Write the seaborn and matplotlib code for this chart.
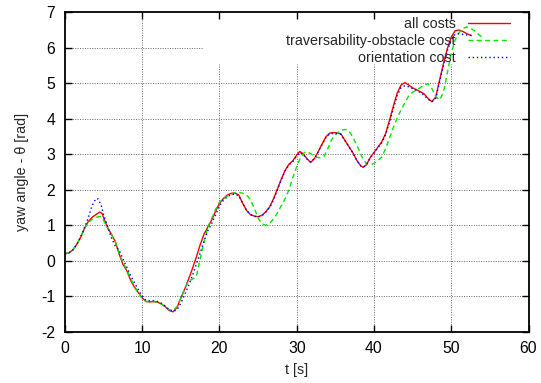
import matplotlib
matplotlib.use("Agg")
import matplotlib.pyplot as plt
import seaborn as sns
import pandas as pd

# yaw angle trajectories (time [s], angle [rad]) for each cost setting
t_all = [0, 0.5, 1.0, 1.5, 2.0, 2.5, 3.0, 3.5, 4.0, 4.5, 4.8, 5.2, 5.6, 6.0, 6.5, 7.0, 7.5, 8.0, 8.5, 9.0,
         9.5, 10.0, 10.5, 11.0, 11.5, 12.0, 12.5, 13.0, 13.5, 14.0, 14.5, 15.0, 15.5, 16.0, 16.5, 17.0, 17.5,
         18.0, 18.5, 19.0, 19.5, 20.0, 20.5, 21.0, 21.5, 22.0, 22.5, 23.0, 23.5, 24.0, 24.5, 25.0, 25.5, 26.0,
         26.5, 27.0, 27.5, 28.0, 28.5, 29.0, 29.5, 30.0, 30.4, 30.8, 31.3, 31.8, 32.3, 32.8, 33.3, 33.8, 34.3,
         35.0, 35.7, 36.2, 36.8, 37.3, 37.8, 38.3, 38.6, 39.0, 39.5, 40.0, 40.5, 41.0, 41.5, 42.0, 42.5, 43.0,
         43.5, 44.0, 44.5, 45.0, 45.5, 46.0, 46.5, 47.0, 47.5, 48.0, 48.5, 49.0, 49.5, 50.0, 50.5, 51.0, 51.5,
         52.0, 52.6]
yaw_all = [0.20, 0.22, 0.30, 0.45, 0.65, 0.90, 1.10, 1.22, 1.30, 1.37, 1.33, 1.10, 0.90, 0.75, 0.55, 0.20,
           -0.10, -0.28, -0.55, -0.75, -0.90, -1.05, -1.15, -1.16, -1.15, -1.17, -1.22, -1.30, -1.40, -1.44,
           -1.32, -1.05, -0.80, -0.52, -0.22, 0.10, 0.45, 0.75, 0.95, 1.15, 1.40, 1.62, 1.75, 1.85, 1.90, 1.91,
           1.85, 1.62, 1.42, 1.30, 1.26, 1.24, 1.28, 1.38, 1.52, 1.75, 2.02, 2.30, 2.55, 2.72, 2.82, 2.98,
           3.08, 3.02, 2.88, 2.77, 2.88, 3.08, 3.30, 3.50, 3.60, 3.61, 3.58, 3.40, 3.20, 3.03, 2.82, 2.67,
           2.63, 2.70, 2.90, 3.05, 3.20, 3.35, 3.58, 3.95, 4.35, 4.72, 4.95, 5.02, 4.95, 4.87, 4.82, 4.76,
           4.70, 4.57, 4.48, 4.62, 5.10, 5.56, 5.98, 6.30, 6.48, 6.50, 6.46, 6.40, 6.34]

t_trav = [0, 0.5, 1.0, 1.5, 2.0, 2.5, 3.0, 3.5, 4.0, 4.5, 4.8, 5.2, 5.6, 6.0, 6.5, 7.0, 7.5, 8.0, 8.5, 9.0,
          9.5, 10.0, 10.5, 11.0, 11.5, 12.0, 12.5, 13.0, 13.5, 14.0, 14.5, 15.0, 15.5, 16.0, 16.5, 17.0, 17.5,
          18.0, 18.5, 19.0, 19.5, 20.0, 20.5, 21.0, 21.5, 22.0, 22.5, 23.0, 23.5, 24.0, 24.5, 25.0, 25.5, 26.0,
          26.5, 27.0, 27.5, 28.0, 28.5, 29.0, 29.5, 30.0, 30.5, 31.0, 31.3, 31.8, 32.3, 33.0, 33.5, 34.0, 34.5,
          35.0, 35.5, 36.0, 36.5, 37.0, 37.5, 38.0, 38.5, 39.0, 39.5, 40.0, 40.5, 41.0, 41.5, 42.0, 42.5, 43.0,
          43.5, 44.0, 44.5, 45.0, 45.5, 46.0, 46.5, 47.0, 47.5, 48.0, 48.5, 49.0, 49.5, 50.0, 50.5, 51.0, 51.5,
          52.0, 52.5, 53.0, 53.5, 54.0]
yaw_trav = [0.20, 0.22, 0.30, 0.45, 0.65, 0.90, 1.08, 1.16, 1.22, 1.25, 1.22, 1.05, 0.88, 0.74, 0.55, 0.22,
            -0.05, -0.25, -0.50, -0.72, -0.90, -1.07, -1.15, -1.15, -1.15, -1.17, -1.22, -1.30, -1.38, -1.40,
            -1.30, -1.05, -0.78, -0.58, -0.52, -0.45, 0.05, 0.55, 0.95, 1.20, 1.45, 1.65, 1.76, 1.82, 1.86,
            1.92, 1.93, 1.90, 1.86, 1.72, 1.48, 1.20, 1.04, 1.00, 1.05, 1.18, 1.35, 1.55, 1.75, 2.00, 2.35,
            2.65, 2.92, 3.05, 3.07, 3.02, 2.93, 2.90, 2.93, 3.15, 3.40, 3.55, 3.65, 3.69, 3.70, 3.58, 3.38,
            3.15, 2.90, 2.74, 2.70, 2.74, 2.82, 2.92, 3.15, 3.45, 3.75, 4.02, 4.25, 4.45, 4.65, 4.75, 4.80,
            4.88, 4.95, 4.99, 4.85, 4.62, 4.53, 4.75, 5.30, 5.85, 6.22, 6.42, 6.54, 6.59, 6.55, 6.48, 6.38,
            6.30]

t_orient = [0, 0.5, 1.0, 1.5, 2.0, 2.5, 3.0, 3.5, 4.0, 4.3, 4.7, 5.0, 5.5, 6.0, 6.5, 7.0, 7.5, 8.0, 8.5,
            9.0, 9.5, 10.0, 10.5, 11.0, 11.5, 12.0, 12.5, 13.0, 13.5, 14.0, 14.5, 15.0, 15.5, 16.0, 16.5, 17.0,
            17.5, 18.0, 18.5, 19.0, 19.5, 20.0, 20.5, 21.0, 21.5, 22.0, 22.5, 23.0, 23.5, 24.0, 24.5, 25.0,
            25.5, 26.0, 26.5, 27.0, 27.5, 28.0, 28.5, 29.0, 29.5, 30.0, 30.4, 30.8, 31.3, 31.8, 32.3, 32.8,
            33.3, 33.8, 34.3, 35.0, 35.7, 36.2, 36.8, 37.3, 37.8, 38.3, 38.6, 39.0, 39.5, 40.0, 40.5, 41.0,
            41.5, 42.0, 42.5, 43.0, 43.5, 44.0, 44.5, 45.0, 45.5, 46.0, 46.5, 47.0, 47.5, 48.0, 48.5, 49.0,
            49.5, 50.0, 50.5, 51.0, 51.5, 52.0, 52.6]
yaw_orient = [0.20, 0.22, 0.30, 0.45, 0.65, 0.92, 1.20, 1.55, 1.75, 1.74, 1.55, 1.30, 0.98, 0.65, 0.42,
              0.30, 0.05, -0.18, -0.42, -0.62, -0.82, -1.00, -1.12, -1.13, -1.13, -1.15, -1.20, -1.28, -1.38,
              -1.43, -1.38, -1.20, -0.95, -0.70, -0.42, -0.10, 0.22, 0.55, 0.85, 1.05, 1.30, 1.55, 1.70, 1.80,
              1.86, 1.88, 1.83, 1.62, 1.42, 1.30, 1.25, 1.23, 1.27, 1.37, 1.50, 1.72, 2.00, 2.28, 2.53, 2.70,
              2.80, 2.95, 3.05, 3.00, 2.87, 2.78, 2.88, 3.08, 3.28, 3.48, 3.58, 3.59, 3.56, 3.40, 3.20, 3.02,
              2.82, 2.67, 2.64, 2.70, 2.90, 3.03, 3.18, 3.32, 3.55, 3.90, 4.28, 4.65, 4.88, 4.93, 4.90, 4.85,
              4.80, 4.74, 4.66, 4.55, 4.48, 4.58, 5.05, 5.50, 5.92, 6.22, 6.38, 6.40, 6.38, 6.36, 6.35]

series_labels = ["all costs", "traversability-obstacle cost", "orientation cost"]
x_ticks = [0, 10, 20, 30, 40, 50, 60]
y_ticks = [-2, -1, 0, 1, 2, 3, 4, 5, 6, 7]

sns.set_style("ticks")
plt.rcParams["font.family"] = ["Liberation Sans", "DejaVu Sans"]
plt.rcParams["axes.unicode_minus"] = False
FS = 10.3
TICK_FS = 11.3

fig = plt.figure(figsize=(5.41, 3.83), dpi=100)
ax = fig.add_axes([0.1201, 0.1339, 0.8568, 0.8340])

styles = [
    dict(color="#ff0000", linestyle="-"),
    dict(color="#00e800", dashes=(3.5, 2.5)),
    dict(color="#0000ff", dashes=(1, 2)),
]
frames = [(t_all, yaw_all), (t_trav, yaw_trav), (t_orient, yaw_orient)]
for (tt, yy), lab, st in zip(frames, series_labels, styles):
    df = pd.DataFrame({"t": tt, "yaw": yy})
    line_kw = {k: v for k, v in st.items() if k != "dashes"}
    sns.lineplot(data=df, x="t", y="yaw", ax=ax, label=lab, lw=1.0, sort=False, **line_kw)
    if "dashes" in st:
        ax.lines[-1].set_dashes(st["dashes"])

ax.set_xlim(x_ticks[0], x_ticks[-1])
ax.set_ylim(y_ticks[0], y_ticks[-1])
ax.set_xticks(x_ticks)
ax.set_yticks(y_ticks)

# grid, kept clear of the key area in the upper right
key_left, key_bottom = 17.9, 5.55
grid_kw = dict(color="0.4", lw=0.7, linestyle=(0, (1, 1.5)), zorder=0)
for yv in y_ticks[1:-1]:
    ax.hlines(yv, x_ticks[0], key_left if yv > key_bottom else x_ticks[-1], **grid_kw)
for xv in x_ticks[1:-1]:
    ax.vlines(xv, y_ticks[0], key_bottom if xv > key_left else y_ticks[-1], **grid_kw)

for sp in ax.spines.values():
    sp.set_visible(True)
    sp.set_linewidth(1.3)
    sp.set_color("black")
ax.tick_params(direction="in", top=True, right=True, length=5, width=1.0,
               labelsize=TICK_FS, pad=7, colors="black")

ax.set_xlabel("t [s]", fontsize=FS, labelpad=5)
ax.set_ylabel("yaw angle - θ [rad]", fontsize=FS)
ax.yaxis.set_label_coords(-0.077, 0.5)

leg = ax.legend(loc="upper right", bbox_to_anchor=(0.960, 0.985), frameon=False,
                markerfirst=False, fontsize=FS, handlelength=2.9, handletextpad=0.9,
                labelspacing=0.2, borderpad=0, borderaxespad=0)
for h, st in zip(leg.get_lines(), styles):
    if "dashes" in st:
        h.set_dashes(st["dashes"])

fig.savefig("out.png", dpi=100)
